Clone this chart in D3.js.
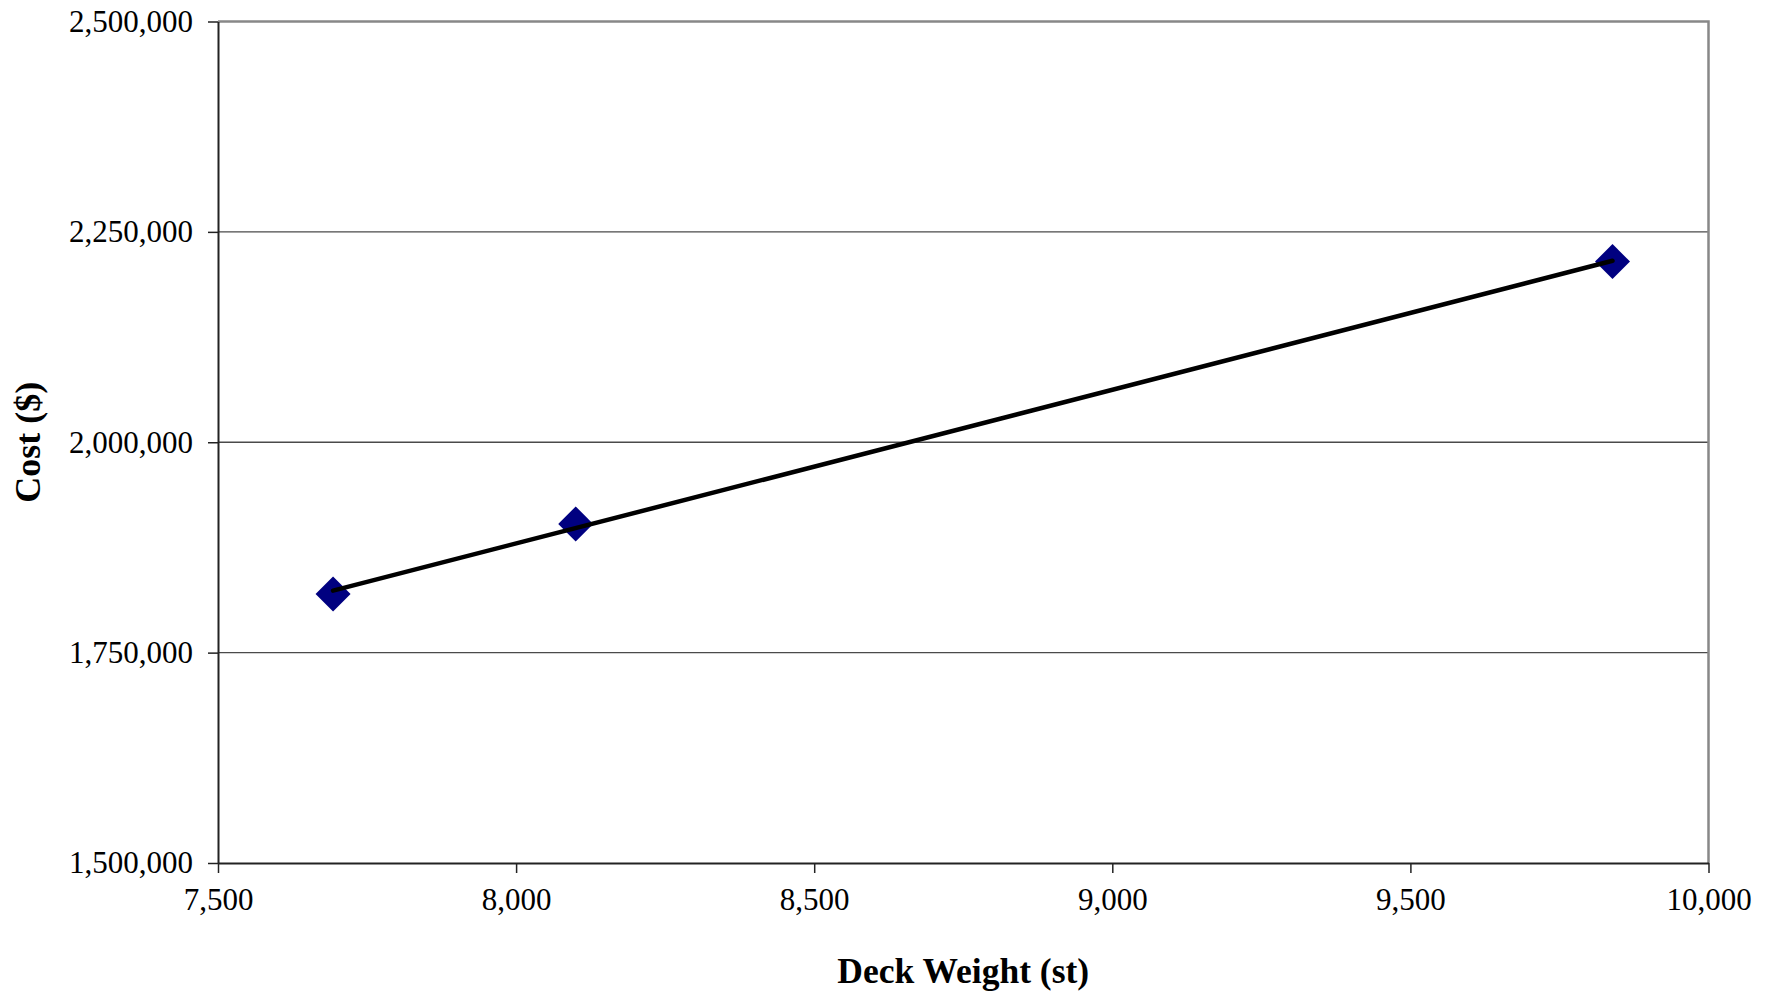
<!DOCTYPE html>
<html>
<head>
<meta charset="utf-8">
<script src="https://cdn.jsdelivr.net/npm/d3@7"></script>
<style>
  html, body { margin: 0; padding: 0; background: #fff; }
  svg { display: block; font-family: "Liberation Serif", "Times New Roman", serif; }
</style>
</head>
<body>
<svg id="chart" width="1775" height="995"></svg>
<script>
// Deck weight (short tons) vs. cost (dollars)
const deckWeight = [7693, 8100, 9839];
const deckCost = [1819700, 1902900, 2214700];

const xTicks = [7500, 8000, 8500, 9000, 9500, 10000];
const yTicks = [1500000, 1750000, 2000000, 2250000, 2500000];

const xTitle = "Deck Weight (st)";
const yTitle = "Cost ($)";

const margin = { left: 218, right: 1775 - 1708.5, top: 21.5, bottom: 995 - 863 };
const W = 1775, H = 995;

const svg = d3.select("#chart");

const x = d3.scaleLinear().domain([7500, 10000]).range([margin.left, W - margin.right]);
const y = d3.scaleLinear().domain([1500000, 2500000]).range([H - margin.bottom, margin.top]);

const fmt = d3.format(",");

// horizontal gridlines
svg.append("g")
  .selectAll("line")
  .data(yTicks.filter(v => v > 1500000 && v < 2500000))
  .join("line")
  .attr("x1", x(7500)).attr("x2", x(10000))
  .attr("y1", d => y(d)).attr("y2", d => y(d))
  .attr("stroke", "#4a4a4a").attr("stroke-width", 1.4);

// top and right frame
svg.append("path")
  .attr("d", `M${x(7500)},${y(2500000)} H${x(10000)} V${y(1500000)}`)
  .attr("fill", "none").attr("stroke", "#888").attr("stroke-width", 2.5);

// x axis
const xAxis = svg.append("g")
  .attr("transform", `translate(0,${y(1500000)})`)
  .call(d3.axisBottom(x).tickValues(xTicks).tickFormat(fmt).tickSizeInner(10).tickSizeOuter(0).tickPadding(15));
xAxis.select(".domain").attr("stroke", "#222").attr("stroke-width", 2);
xAxis.selectAll(".tick line").attr("stroke", "#222").attr("stroke-width", 1.5);
xAxis.selectAll("text").attr("font-size", 31).attr("fill", "#000")
  .attr("font-family", "'Liberation Serif', 'Times New Roman', serif");

// y axis
const yAxis = svg.append("g")
  .attr("transform", `translate(${x(7500)},0)`)
  .call(d3.axisLeft(y).tickValues(yTicks).tickFormat(fmt).tickSizeInner(10).tickSizeOuter(0).tickPadding(15));
yAxis.select(".domain").attr("stroke", "#222").attr("stroke-width", 2);
yAxis.selectAll(".tick line").attr("stroke", "#222").attr("stroke-width", 1.5);
yAxis.selectAll("text").attr("font-size", 31).attr("fill", "#000")
  .attr("font-family", "'Liberation Serif', 'Times New Roman', serif");

// least-squares trend line across the data range
const n = deckWeight.length;
const mx = d3.mean(deckWeight), my = d3.mean(deckCost);
let sxy = 0, sxx = 0;
for (let i = 0; i < n; i++) {
  sxy += (deckWeight[i] - mx) * (deckCost[i] - my);
  sxx += (deckWeight[i] - mx) ** 2;
}
const slope = sxy / sxx, intercept = my - slope * mx;
const x0 = d3.min(deckWeight), x1 = d3.max(deckWeight);

// diamond markers
const pts = deckWeight.map((w, i) => [w, deckCost[i]]);
svg.append("g")
  .selectAll("path")
  .data(pts)
  .join("path")
  .attr("d", d3.symbol(d3.symbolDiamond2, 780))
  .attr("transform", d => `translate(${x(d[0])},${y(d[1])})`)
  .attr("fill", "#000080");

svg.append("line")
  .attr("x1", x(x0)).attr("y1", y(intercept + slope * x0))
  .attr("x2", x(x1)).attr("y2", y(intercept + slope * x1))
  .attr("stroke", "#000").attr("stroke-width", 4.5).attr("stroke-linecap", "round");

// axis titles
svg.append("text")
  .attr("x", (x(7500) + x(10000)) / 2).attr("y", 983)
  .attr("text-anchor", "middle")
  .attr("font-size", 35.5).attr("font-weight", "bold")
  .text(xTitle);

svg.append("text")
  .attr("transform", `translate(40,${(y(1500000) + y(2500000)) / 2}) rotate(-90)`)
  .attr("text-anchor", "middle")
  .attr("font-size", 36).attr("font-weight", "bold")
  .text(yTitle);
</script>
</body>
</html>
